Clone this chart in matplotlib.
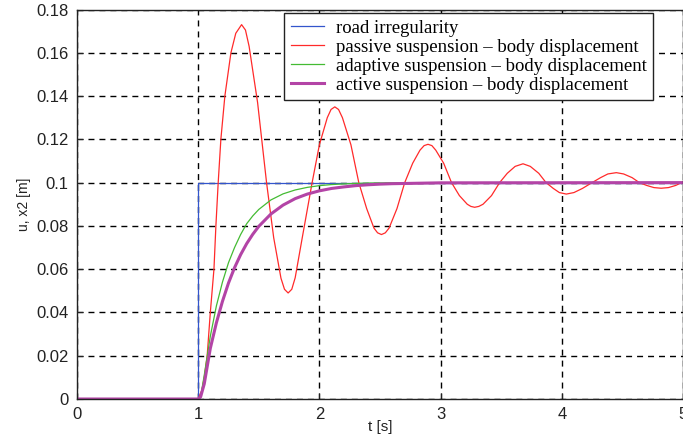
import matplotlib
matplotlib.use("Agg")
import matplotlib.pyplot as plt

# road irregularity (step input)
t_road = [0.0, 1.0, 1.0, 5.0]
u_road = [0.0, 0.0, 0.1, 0.1]

# passive suspension - body displacement
t_passive = [0.0, 1.0, 1.03, 1.05, 1.074, 1.10, 1.13, 1.146, 1.165, 1.187, 1.22, 1.27, 1.31,
             1.358, 1.39, 1.42, 1.49, 1.564, 1.623, 1.683, 1.712, 1.742, 1.772, 1.80, 1.86, 1.94,
             2.00, 2.065, 2.096, 2.127, 2.158, 2.19, 2.26, 2.325, 2.39, 2.45, 2.48, 2.512, 2.544,
             2.575, 2.64, 2.704, 2.77, 2.83, 2.864, 2.896, 2.928, 2.96, 3.025, 3.09, 3.155, 3.22,
             3.25, 3.281, 3.315, 3.35, 3.42, 3.487,
             3.55, 3.615, 3.68, 3.74, 3.81, 3.87, 3.93, 3.98, 4.037, 4.10, 4.17, 4.25,
             4.32, 4.38, 4.45, 4.51, 4.58, 4.64, 4.70, 4.76, 4.82, 4.88, 4.94, 5.0]
x_passive = [0.0, 0.0, 0.004, 0.010, 0.020, 0.040, 0.060, 0.080, 0.100, 0.120, 0.140, 0.160, 0.169,
             0.173, 0.1705, 0.163, 0.137, 0.100, 0.0745, 0.0558, 0.0507, 0.049, 0.0507, 0.056, 0.075, 0.100,
             0.1175, 0.130, 0.1338, 0.135, 0.1338, 0.130, 0.1175, 0.100, 0.088, 0.079, 0.0768, 0.076, 0.0768,
             0.079, 0.088, 0.100, 0.109, 0.115, 0.1171, 0.1177, 0.1171, 0.115, 0.109, 0.100, 0.094, 0.090,
             0.089, 0.0886, 0.089, 0.090, 0.094, 0.100,
             0.1043, 0.1075, 0.1087, 0.1075, 0.1043, 0.100, 0.0973, 0.0954, 0.0947, 0.0954, 0.0973, 0.100,
             0.1023, 0.104, 0.1046, 0.104, 0.1023, 0.100, 0.0987, 0.0977, 0.0974, 0.0977, 0.0987, 0.1003]

# adaptive suspension - body displacement
t_adaptive = [0.0, 1.0, 1.02, 1.05, 1.10, 1.15, 1.20, 1.25, 1.30, 1.35, 1.40, 1.45, 1.50,
              1.60, 1.70, 1.80, 1.90, 2.00, 2.10, 2.20, 2.40, 2.60, 3.00, 5.0]
x_adaptive = [0.0, 0.0, 0.001, 0.011, 0.029, 0.043, 0.054, 0.063, 0.070, 0.076, 0.081, 0.0846, 0.0876,
              0.0920, 0.0948, 0.0966, 0.0978, 0.0986, 0.0991, 0.0994, 0.0998, 0.0999, 0.1, 0.1]

# active suspension - body displacement
t_active = [0.0, 1.0, 1.02, 1.05, 1.10, 1.15, 1.20, 1.25, 1.30, 1.35, 1.40, 1.45, 1.50,
            1.60, 1.70, 1.80, 1.90, 2.00, 2.10, 2.20, 2.30, 2.40, 2.50, 2.60, 2.80, 3.00, 5.0]
x_active = [0.0, 0.0, 0.001, 0.007, 0.0234, 0.0352, 0.0451, 0.0536, 0.0607, 0.0667, 0.0718, 0.0761, 0.0798,
            0.0855, 0.0896, 0.0926, 0.0947, 0.0962, 0.0973, 0.0980, 0.0986, 0.0990, 0.0993, 0.0995, 0.0997, 0.0999, 0.1]

fig = plt.figure(figsize=(6.83, 4.38), dpi=100)
ax = fig.add_axes([77 / 683, 39 / 438, 606 / 683, 389.5 / 438])

ax.plot(t_road, u_road, color='#3355cc', lw=0.9, label='road irregularity')
ax.plot(t_passive, x_passive, color='#ff2a2a', lw=0.9, label='passive suspension \u2013 body displacement')
ax.plot(t_adaptive, x_adaptive, color='#44bb33', lw=0.9, label='adaptive suspension \u2013 body displacement')
ax.plot(t_active, x_active, color='#b344a6', lw=2.2, label='active suspension \u2013 body displacement')

ax.set_xlim(0, 5)
ax.set_ylim(0, 0.18)
ax.set_xticks([0, 1, 2, 3, 4, 5])
ax.set_yticks([0, 0.02, 0.04, 0.06, 0.08, 0.1, 0.12, 0.14, 0.16, 0.18])
ax.set_yticklabels(['0', '0.02', '0.04', '0.06', '0.08', '0.1', '0.12', '0.14', '0.16', '0.18'])
ax.tick_params(direction='in', length=4, labelsize=12, pad=6, colors='#222222')
for lab in ax.get_xticklabels() + ax.get_yticklabels():
    lab.set_family('Liberation Sans')
for s in ax.spines.values():
    s.set_linewidth(1.0)
    s.set_color('#222222')

ax.grid(True, color='black', linestyle=(0, (4.3, 3.6)), lw=1.0)

ax.set_xlabel('t [s]', fontsize=11, family='Liberation Sans', color='#222222', labelpad=-2)
ax.set_ylabel('u, x2 [m]', fontsize=10, family='Liberation Sans', color='#222222', labelpad=4)

leg = ax.legend(loc='upper right', bbox_to_anchor=(653 / 683, 1 - 13 / 438),
                bbox_transform=fig.transFigure, fancybox=False, framealpha=1,
                edgecolor='#222222', prop={'family': 'Liberation Serif', 'size': 13.5},
                handlelength=1.8, handletextpad=0.6, labelspacing=0.1, borderpad=0.35,
                borderaxespad=0)
leg.get_frame().set_linewidth(1.0)

fig.savefig('out.png', dpi=100)
